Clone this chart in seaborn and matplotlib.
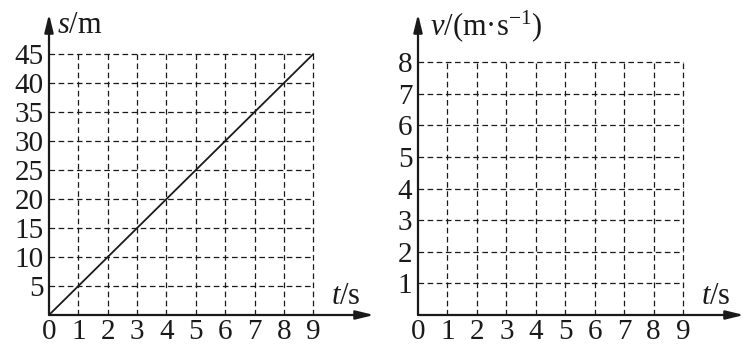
import matplotlib
matplotlib.use("Agg")
import matplotlib.pyplot as plt
import seaborn as sns
import pandas as pd

# ---- data ----
t_values = [0, 1, 2, 3, 4, 5, 6, 7, 8, 9]
s_values = [0, 5, 10, 15, 20, 25, 30, 35, 40, 45]
t_ticks = [0, 1, 2, 3, 4, 5, 6, 7, 8, 9]
s_ticks = [5, 10, 15, 20, 25, 30, 35, 40, 45]
v_ticks = [1, 2, 3, 4, 5, 6, 7, 8]
s_label = "$s$/m"
v_label = "$v$/(m·s$^{\\mathrm{-1}}$)"
t_label = "$t$/s"

sns.set_theme(style="white")
plt.rcParams["font.family"] = ["Liberation Serif", "DejaVu Serif"]
plt.rcParams["mathtext.fontset"] = "custom"
plt.rcParams["mathtext.rm"] = "Liberation Serif"
plt.rcParams["mathtext.it"] = "Liberation Serif:italic"

W, H = 749, 347
fig = plt.figure(figsize=(W / 100, H / 100), dpi=100)
fig.patch.set_facecolor("white")

INK = "#1a1a1a"
TICK_FS = 21
LABEL_FS = 22


def make_axes(ox, oy, tipx, tipy, xu, yu):
    ax = fig.add_axes([ox / W, (H - oy) / H, (tipx - ox) / W, (oy - tipy) / H])
    ax.set_xlim(0, (tipx - ox) / xu)
    ax.set_ylim(0, (oy - tipy) / yu)
    for sp in ax.spines.values():
        sp.set_visible(False)
    ax.set_facecolor("none")
    ax.tick_params(length=0)
    return ax


def decorate(ax, yticks, ymax, xmax=9):
    dash = (0, (4.5, 2.8))
    for tv in t_ticks[1:]:
        ax.vlines(tv, 0, ymax, colors=INK, linestyles=[dash], linewidth=0.9)
    for yv in yticks:
        ax.hlines(yv, 0, xmax, colors=INK, linestyles=[dash], linewidth=0.9)
    x0, x1 = ax.get_xlim()
    y0, y1 = ax.get_ylim()
    arrow = dict(arrowstyle="-|>,head_length=0.9,head_width=0.22",
                 color=INK, lw=1.6, shrinkA=0, shrinkB=0, mutation_scale=12)
    ax.annotate("", xy=(x1, 0), xytext=(0, 0), arrowprops=arrow, annotation_clip=False)
    ax.annotate("", xy=(0, y1), xytext=(0, 0), arrowprops=arrow, annotation_clip=False)
    ax.set_xticks(t_ticks)
    ax.set_xticklabels([str(v) for v in t_ticks], fontsize=TICK_FS, color=INK)
    ax.set_yticks(yticks)
    ax.set_yticklabels([str(v) for v in yticks], fontsize=TICK_FS, color=INK)
    ax.tick_params(axis="x", pad=3)
    ax.tick_params(axis="y", pad=4)


# ---- left: s-t graph ----
xu_l, yu_l = 29.37, 5.8
axL = make_axes(49, 315, 374, 14, xu_l, yu_l)
decorate(axL, s_ticks, 45)
df = pd.DataFrame({"t": t_values, "s": s_values})
sns.lineplot(data=df, x="t", y="s", ax=axL, color=INK, linewidth=1.3)
axL.set_xlabel("")
axL.set_ylabel("")
axL.text((57 - 49) / xu_l, (315 - 33) / yu_l, s_label, fontsize=LABEL_FS,
         ha="left", va="baseline", color=INK)
axL.text((331 - 49) / xu_l, (315 - 304) / yu_l, t_label, fontsize=LABEL_FS,
         ha="left", va="baseline", color=INK)

# ---- right: v-t graph (empty grid) ----
xu_r, yu_r = 29.44, 31.6
axR = make_axes(418, 315, 744, 14, xu_r, yu_r)
decorate(axR, v_ticks, 8)
axR.text((430 - 418) / xu_r, (315 - 35) / yu_r, v_label, fontsize=LABEL_FS,
         ha="left", va="baseline", color=INK)
axR.text((701 - 418) / xu_r, (315 - 304) / yu_r, t_label, fontsize=LABEL_FS,
         ha="left", va="baseline", color=INK)

fig.savefig("out.png", dpi=100, facecolor="white")
